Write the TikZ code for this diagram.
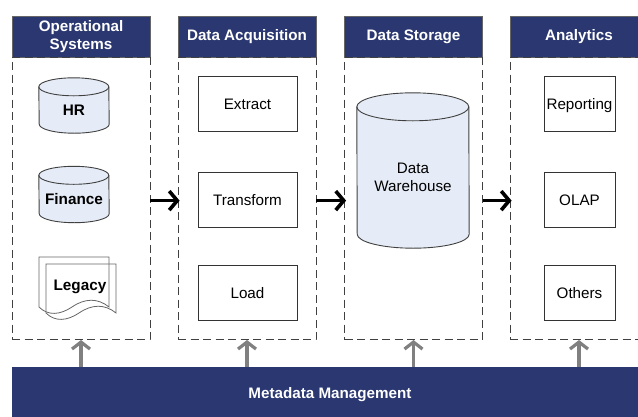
\documentclass[tikz,border=0pt]{standalone}
\usepackage{fontspec}
\setmainfont{Liberation Sans}
\usetikzlibrary{positioning}
\usetikzlibrary{arrows.meta}
\pgfdeclarelayer{background}
\pgfsetlayers{background,main}
\definecolor{navy}{HTML}{2A3770}
\definecolor{pale}{HTML}{E6ECF7}
\tikzset{header/.style={rectangle,fill=navy,draw=black!60,inner sep=0pt,minimum height=41pt,
text=white,align=center,font=\fontsize{15.2}{18}\selectfont\bfseries},
oneline/.style={text height=11pt,text depth=3pt},
panel/.style={rectangle,draw=black!75,line width=0.8pt,dash pattern=on 8pt off 4.5pt,inner sep=0pt,
minimum width=138pt,minimum height=282pt},
stepbox/.style={rectangle,draw=black!80,line width=0.8pt,inner sep=0pt,minimum height=55pt,
text height=11pt,text depth=0pt,font=\fontsize{15.2}{18}\selectfont},
drum/.style={rectangle,inner sep=0pt,minimum width=70pt,minimum height=46pt,
text height=11pt,text depth=0pt,font=\fontsize{15.3}{18}\selectfont\bfseries},
drumline/.style={draw=black!75,fill=pale,line width=0.9pt},
page/.style={draw=black!60,line width=0.8pt},
flow/.style={-{Straight Barb[length=8pt,width=19pt,line width=3.6pt]},black,line width=3.2pt,shorten >=-2pt},
feed/.style={-{Straight Barb[length=7pt,width=18pt,line width=3.2pt]},black!50,line width=3.4pt}}
\newcommand{\drawdrum}[3]{
  \begin{pgfonlayer}{background}
    \draw [drumline] (#1.north west) arc [start angle=180,delta angle=-180,x radius=#2,y radius=#3]
      -- ([yshift=#3]#1.south east) arc [start angle=0,delta angle=-180,x radius=#2,y radius=#3] -- cycle;
    \draw [drumline,fill=none] (#1.north west) arc [start angle=180,delta angle=180,x radius=#2,y radius=#3];
  \end{pgfonlayer}}

\begin{document}
\begin{tikzpicture}[x=1pt,y=-1pt]
  \useasboundingbox (0,0) rectangle (638,416);
  \node (opshead) [header,minimum width=138pt] at (81,36.5) {Operational\\Systems};
  \node (acqhead) [header,oneline,minimum width=138pt] at (247,36.5) {Data Acquisition};
  \node (storehead) [header,oneline,minimum width=138pt] at (413.5,36.5) {Data Storage};
  \node (anahead) [header,oneline,minimum width=138pt] at (579,36.5) {Analytics};
  \node (opspanel) [panel,below=0pt of opshead] {};
  \node (acqpanel) [panel,below=0pt of acqhead] {};
  \node (storepanel) [panel,below=0pt of storehead] {};
  \node (anapanel) [panel,below=0pt of anahead] {};
  \node (meta) [header,draw=none,minimum width=636pt,minimum height=50pt,text height=13pt,text depth=0pt] at (330,392) {Metadata Management};
  \node (hr) [drum] at (74,110) {HR};
  \node (finance) [drum,minimum height=47pt] at (74,199) {Finance};
  \node (warehouse) [drum,minimum width=112pt,minimum height=141pt,text height=,text depth=,align=center,
    font=\fontsize{15.2}{18}\selectfont] at (413,177.5) {Data\\Warehouse};
  \drawdrum{hr}{35pt}{9pt}
  \drawdrum{finance}{35pt}{9pt}
  \drawdrum{warehouse}{56pt}{14pt}
  \node (extract) [stepbox,minimum width=99pt] at (247.5,103.5) {Extract};
  \node (transform) [stepbox,minimum width=99pt] at (247.5,199.5) {Transform};
  \node (load) [stepbox,minimum width=99pt] at (247.5,292.5) {Load};
  \node (reporting) [stepbox,minimum width=71pt] at (579.5,103.5) {Reporting};
  \node (olap) [stepbox,minimum width=71pt] at (579.5,199.5) {OLAP};
  \node (others) [stepbox,minimum width=71pt] at (579.5,292.5) {Others};
  \draw [page] (39,307) -- (39,257) -- (109,257) -- (109,307)
    .. controls (98,298) and (85,298) .. (72,307) .. controls (60,315) and (48,316) .. (39,307);
  \draw [page] (46,313) -- (46,264) -- (116,264) -- (116,313)
    .. controls (105,304) and (92,304) .. (79,313) .. controls (67,321) and (55,322) .. (46,313);
  \node (legacy) [font=\fontsize{15.3}{18}\selectfont\bfseries] at (80,287) {Legacy};
  \draw [flow] ([yshift=-2pt]opspanel.east) -- ([yshift=-2pt]acqpanel.west);
  \draw [flow] ([yshift=-2pt]acqpanel.east) -- ([yshift=-2pt]storepanel.west);
  \draw [flow] ([yshift=-2pt]storepanel.east) -- ([yshift=-2pt]anapanel.west);
  \draw [feed] (meta.north -| opspanel.south) -- (opspanel.south);
  \draw [feed] (meta.north -| acqpanel.south) -- (acqpanel.south);
  \draw [feed] (meta.north -| storepanel.south) -- (storepanel.south);
  \draw [feed] (meta.north -| anapanel.south) -- (anapanel.south);
\end{tikzpicture}
\end{document}
